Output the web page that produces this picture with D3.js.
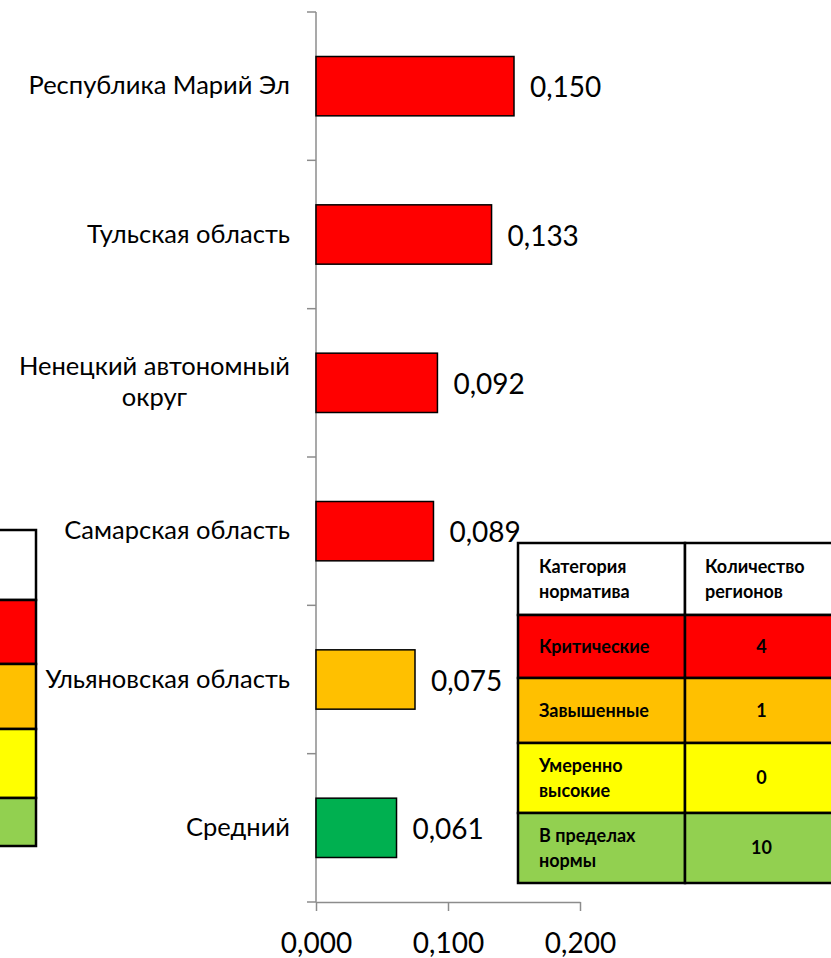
<!DOCTYPE html>
<html>
  <head>
    <meta charset="utf-8">
    <title>Нормативы по регионам</title>
    <script src="https://cdn.jsdelivr.net/npm/d3@7"></script>
    <style>
      body { margin: 0; background: #fff; }
      text { font-family: Lato, "Open Sans", sans-serif; }
    </style>
  </head>
  <body>
    <svg width="831" height="958" id="mainsvg"></svg>
    <script>
        // bar chart data
        const categories = ['Республика Марий Эл', 'Тульская область', 'Ненецкий автономный|округ',
          'Самарская область', 'Ульяновская область', 'Средний'];
        const values = [0.150, 0.133, 0.092, 0.089, 0.075, 0.061];
        const barColors = ['#FF0000', '#FF0000', '#FF0000', '#FF0000', '#FFC000', '#00B050'];
        const xTicks = [0, 0.1, 0.2];

        // legend table data
        const tableHeader = ['Категория|норматива', 'Количество|регионов'];
        const tableRows = ['Критические', 'Завышенные', 'Умеренно|высокие', 'В пределах|нормы'];
        const tableCounts = [4, 1, 0, 10];
        const tableColors = ['#FF0000', '#FFC000', '#FFFF00', '#92D050'];

        const svg = d3.select('#mainsvg');
        const fmt = d => d3.format('.3f')(d).replace('.', ',');

        const x = d3.scaleLinear().domain([0, 0.2]).range([316, 580]);
        const y = d3.scaleBand().domain(categories).range([12, 902])
          .paddingInner(0.6).paddingOuter(0.3);
        const step = y.step();

        // left table, mostly cut off by the page edge
        const leftRowsY = [530, 600, 664, 729, 798, 846];
        const lt = svg.append('g');
        lt.selectAll('rect').data(['#fff'].concat(tableColors)).join('rect')
          .attr('x', -200).attr('width', 236)
          .attr('y', (d, i) => leftRowsY[i])
          .attr('height', (d, i) => leftRowsY[i + 1] - leftRowsY[i])
          .attr('fill', d => d).attr('stroke', '#000').attr('stroke-width', 2.5);

        // y axis: line and ticks on band edges
        const axisColor = '#8c8c8c';
        svg.append('line').attr('x1', x(0)).attr('x2', x(0)).attr('y1', 12).attr('y2', 902)
          .attr('stroke', axisColor).attr('stroke-width', 1.5);
        svg.append('g').selectAll('line').data(d3.range(categories.length + 1)).join('line')
          .attr('x1', x(0) - 9).attr('x2', x(0))
          .attr('y1', i => 12 + i * step).attr('y2', i => 12 + i * step)
          .attr('stroke', axisColor).attr('stroke-width', 1.5);

        // x axis
        const xAxis = svg.append('g').attr('transform', 'translate(0, 902)')
          .call(d3.axisBottom(x).tickValues(xTicks).tickFormat(fmt).tickSize(9).tickSizeOuter(0));
        xAxis.select('.domain').attr('stroke', axisColor).attr('stroke-width', 1.5);
        xAxis.selectAll('.tick line').attr('stroke', axisColor).attr('stroke-width', 1.5);
        xAxis.selectAll('.tick text').attr('y', 51).attr('dy', null)
          .attr('font-size', 28).attr('fill', '#000').attr('font-family', 'Lato, sans-serif');

        // bars
        svg.append('g').selectAll('rect').data(categories).join('rect')
          .attr('x', x(0)).attr('y', d => y(d))
          .attr('width', (d, i) => x(values[i]) - x(0))
          .attr('height', y.bandwidth())
          .attr('fill', (d, i) => barColors[i])
          .attr('stroke', '#000').attr('stroke-width', 1.5);

        // value labels
        svg.append('g').selectAll('text').data(categories).join('text')
          .attr('x', (d, i) => x(values[i]) + 16)
          .attr('y', d => y(d) + y.bandwidth() / 2)
          .attr('dy', '0.4em').attr('font-size', 28)
          .text((d, i) => fmt(values[i]));

        // category labels (wrapped lines centred on each other, block right-aligned)
        const catG = svg.append('g');
        categories.forEach(c => {
          const lines = c.split('|');
          const cy = y(c) + y.bandwidth() / 2;
          const t = catG.append('text').attr('font-size', 25.5).attr('text-anchor', 'middle');
          lines.forEach((l, k) => {
            t.append('tspan').attr('y', cy + 8 + (k - (lines.length - 1) / 2) * 31).text(l);
          });
          const w = d3.max(t.selectAll('tspan').nodes(), n => n.getComputedTextLength());
          t.selectAll('tspan').attr('x', 290 - w / 2);
        });

        // right legend table
        const rowsY = [543, 615, 678, 743, 813, 883];
        const colX = [518, 685, 838];
        const rt = svg.append('g');
        const cellText = (txt, cx, cy, anchor) => {
          const lines = String(txt).split('|');
          const t = rt.append('text').attr('font-size', 18).attr('font-weight', 'bold')
            .attr('text-anchor', anchor);
          lines.forEach((l, k) => {
            t.append('tspan').attr('x', cx).attr('y', cy + 6 + (k - (lines.length - 1) / 2) * 25).text(l);
          });
        };
        const rowFill = ['#fff'].concat(tableColors);
        rowFill.forEach((f, i) => {
          [0, 1].forEach(j => {
            rt.append('rect').attr('x', colX[j]).attr('y', rowsY[i])
              .attr('width', colX[j + 1] - colX[j]).attr('height', rowsY[i + 1] - rowsY[i])
              .attr('fill', f).attr('stroke', '#000').attr('stroke-width', 2.5);
          });
        });
        tableHeader.forEach((h, j) => {
          cellText(h, colX[j] + (j === 0 ? 21 : 20), (rowsY[0] + rowsY[1]) / 2, 'start');
        });
        tableRows.forEach((r, i) => {
          const cy = (rowsY[i + 1] + rowsY[i + 2]) / 2;
          cellText(r, colX[0] + 21, cy, 'start');
          cellText(tableCounts[i], (colX[1] + colX[2]) / 2, cy, 'middle');
        });
    </script>
  </body>
</html>
